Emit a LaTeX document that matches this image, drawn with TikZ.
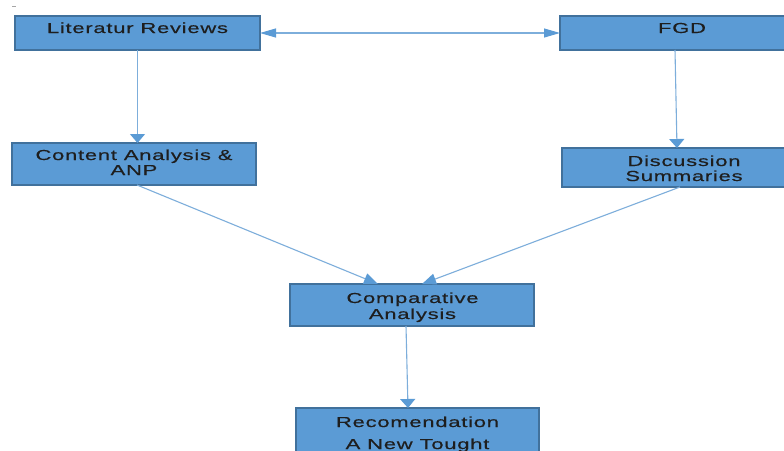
\documentclass[tikz,border=0pt]{standalone}
\usepackage{fontspec}
\setmainfont{Liberation Sans}[FakeStretch=1.52,LetterSpace=5,FakeBold=0.4]
\usetikzlibrary{arrows.meta}
\definecolor{boxfill}{HTML}{5B9BD5}
\definecolor{boxline}{HTML}{41719C}
\definecolor{arrline}{HTML}{7DAEDB}
\definecolor{tipc}{HTML}{5B9BD5}
\definecolor{txt}{HTML}{1E1E1E}
\begin{document}
\begin{tikzpicture}[x=1pt,y=-1pt,
  box/.style={draw=boxline,line width=1.3pt,fill=boxfill,inner sep=0pt,outer sep=0pt},
  lbl/.style={text=txt,inner sep=0pt,anchor=base,font=\fontsize{14.5}{15}\selectfont},
  arr/.style={draw=arrline,line width=1.1pt},
  vtip/.style={-{Triangle[width=15pt,length=9pt,color=tipc,fill=tipc]}},
  htip/.style={{Triangle[width=9pt,length=16pt,color=tipc,fill=tipc]}-{Triangle[width=9pt,length=16pt,color=tipc,fill=tipc]}},
  dtip/.style={-{Triangle[width=11pt,length=14pt,color=tipc,fill=tipc]}}]
\useasboundingbox (0,0) rectangle (784,450);
\clip (0,0) rectangle (784,450);
\fill[white] (0,0) rectangle (784,450);
\draw[gray!70,line width=0.6pt] (12,6) -- (16,6);
% boxes
\node[box,minimum width=245pt,minimum height=34pt] (lit) at (137.5,33) {};
\node[box,minimum width=240pt,minimum height=34pt] (fgd) at (680,33) {};
\node[box,minimum width=244pt,minimum height=42pt] (cont) at (134,164) {};
\node[box,minimum width=244pt,minimum height=39pt] (disc) at (684,167.5) {};
\node[box,minimum width=244pt,minimum height=42pt] (comp) at (412,305) {};
\node[box,minimum width=243pt,minimum height=56pt] (rec) at (417.5,436) {};
% labels
\node[lbl] (litT) at (137.5,33) {Literatur Reviews};
\node[lbl] (fgdT) at (682,33) {FGD};
\node[lbl] (contT1) at (134,160) {Content Analysis \&};
\node[lbl] (contT2) at (134,175) {ANP};
\node[lbl] (discT1) at (684,166) {Discussion};
\node[lbl] (discT2) at (684,181) {Summaries};
\node[lbl] (compT1) at (412.5,303) {Comparative};
\node[lbl] (compT2) at (412.5,319) {Analysis};
\node[lbl] (recT1) at (417.5,427) {Recomendation};
\node[lbl] (recT2) at (417.5,449) {A New Tought};
% connectors
\draw[arr,vtip] (lit.south) -- (lit.south |- cont.north);
\draw[arr,vtip] ([xshift=-5pt]fgd.south) -- ([xshift=-7pt]disc.north);
\draw[arr,htip] (lit.east) -- (fgd.west);
\draw[arr,dtip] ([xshift=3pt]cont.south) -- ([xshift=-34pt]comp.north);
\draw[arr,dtip] ([xshift=-4pt]disc.south) -- ([xshift=10pt]comp.north);
\draw[arr,vtip] ([xshift=-6pt]comp.south) -- ([xshift=-9.5pt]rec.north);
\end{tikzpicture}
\end{document}
